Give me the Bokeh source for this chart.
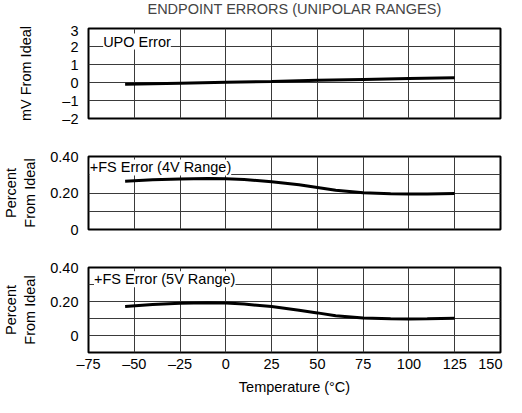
from bokeh.plotting import figure
from bokeh.models import Range1d, FixedTicker, Label
from bokeh.layouts import column
from bokeh.embed import file_html
from bokeh.resources import INLINE

# ---- data ----
title_text = "ENDPOINT ERRORS (UNIPOLAR RANGES)"
x_ticks = [-75, -50, -25, 0, 25, 50, 75, 100, 125, 150]
x_tick_labels = ["\u201375", "\u201350", "\u201325", "0", "25", "50", "75", "100", "125",
                 "150\u00a0"]
x_label = "Temperature (\u00b0C)"

upo_temp = [-55, -25, 0, 25, 50, 75, 100, 125]
upo_mv = [-0.10, -0.04, 0.01, 0.06, 0.12, 0.17, 0.22, 0.27]

fs_temp = [-55, -40, -25, -10, 0, 10, 25, 40, 50, 60, 75, 90, 100, 110, 125]
fs4_pct = [0.265, 0.272, 0.277, 0.279, 0.278, 0.274, 0.262, 0.245, 0.230, 0.215, 0.201, 0.196, 0.195, 0.195, 0.197]
fs5_pct = [0.171, 0.182, 0.190, 0.193, 0.191, 0.185, 0.170, 0.148, 0.133, 0.116, 0.103, 0.098, 0.097, 0.098, 0.101]

p1_yticks = [-2, -1, 0, 1, 2, 3]
p1_ylabels = ["\u20132", "\u20131", "0", "1", "2", "3"]
pct_major = [0, 0.2, 0.4]
pct_labels = ["0", "0.20", "0.40"]

FONT = "Liberation Sans"
FS = "14.5px"
GRID = "#3a3a3a"


def base(height, yr, top, bottom):
    p = figure(width=506, height=height, x_range=Range1d(-75, 150), y_range=yr,
               output_backend="svg", toolbar_location=None,
               min_border_left=84, min_border_right=6,
               min_border_top=top, min_border_bottom=bottom)
    p.outline_line_color = "black"
    p.outline_line_width = 2
    p.outline_line_alpha = 1
    p.xgrid.ticker = FixedTicker(ticks=x_ticks)
    p.xgrid.grid_line_color = GRID
    p.xgrid.grid_line_width = 1
    p.ygrid.grid_line_color = GRID
    p.ygrid.grid_line_width = 1
    for ax in p.axis:
        ax.axis_line_color = None
        ax.major_tick_line_color = None
        ax.minor_tick_line_color = None
        ax.major_tick_out = 0
        ax.major_tick_in = 0
        ax.minor_tick_out = 0
        ax.minor_tick_in = 0
        ax.major_label_text_font = FONT
        ax.major_label_text_font_size = FS
        ax.major_label_text_color = "black"
        ax.axis_label_text_font = FONT
        ax.axis_label_text_font_size = FS
        ax.axis_label_text_font_style = "normal"
        ax.axis_label_text_color = "black"
    for ax in p.yaxis:
        ax.major_label_standoff = 10
    return p


def add_label(p, x, y, text):
    p.add_layout(Label(x=x, y=y, text=text, text_font=FONT, text_font_size=FS,
                       text_color="black", text_baseline="bottom",
                       background_fill_color="white", background_fill_alpha=1))


# ---- title strip ----
p0 = figure(width=506, height=22, x_range=Range1d(0, 1), y_range=Range1d(0, 1),
            output_backend="svg", toolbar_location=None,
            min_border_left=84, min_border_right=6, min_border_top=0, min_border_bottom=0)
p0.title.text = title_text
p0.title.align = "center"
p0.title.vertical_align = "top"
p0.title.standoff = 0
p0.title.text_font = FONT
p0.title.text_font_size = "14.5px"
p0.title.text_font_style = "normal"
p0.axis.visible = False
p0.grid.visible = False
p0.outline_line_color = None

# ---- panel 1 ----
p1 = base(106, Range1d(-2, 3), 6, 10)
p1.xaxis.visible = False
p1.yaxis.ticker = FixedTicker(ticks=p1_yticks)
p1.ygrid.ticker = FixedTicker(ticks=p1_yticks)
p1.yaxis.major_label_overrides = dict(zip(p1_yticks, p1_ylabels))
p1.yaxis.axis_label = "mV From Ideal"
p1.yaxis.axis_label_standoff = 25
p1.line(upo_temp, upo_mv, line_color="black", line_width=3, level="overlay")
add_label(p1, -67, 1.83, "UPO Error")

# ---- panel 2 ----
p2 = base(111, Range1d(0, 0.4), 28, 10)
p2.xaxis.visible = False
p2.yaxis.ticker = FixedTicker(ticks=pct_major, minor_ticks=[0.1, 0.3])
p2.ygrid.ticker = FixedTicker(ticks=pct_major, minor_ticks=[0.1, 0.3])
p2.ygrid.minor_grid_line_color = GRID
p2.ygrid.minor_grid_line_width = 1
p2.yaxis.major_label_overrides = dict(zip(pct_major, pct_labels))
p2.yaxis.axis_label = "Percent\nFrom Ideal"
p2.yaxis.axis_label_standoff = 9
p2.line(fs_temp, fs4_pct, line_color="black", line_width=3, level="overlay")
add_label(p2, -74.3, 0.296, "+FS Error (4V Range)")

# ---- panel 3 ----
p3 = base(158, Range1d(-0.1, 0.4), 28, 41)
p3.yaxis.ticker = FixedTicker(ticks=pct_major, minor_ticks=[-0.1, 0.1, 0.3])
p3.ygrid.ticker = FixedTicker(ticks=pct_major, minor_ticks=[-0.1, 0.1, 0.3])
p3.ygrid.minor_grid_line_color = GRID
p3.ygrid.minor_grid_line_width = 1
p3.yaxis.major_label_overrides = dict(zip(pct_major, pct_labels))
p3.yaxis.axis_label = "Percent\nFrom Ideal"
p3.yaxis.axis_label_standoff = 9
ax = p3.xaxis[0]
ax.ticker = FixedTicker(ticks=x_ticks)
ax.major_label_overrides = dict(zip(x_ticks, x_tick_labels))
ax.major_label_standoff = 3
ax.axis_label = x_label
ax.axis_label_standoff = 4
p3.line(fs_temp, fs5_pct, line_color="black", line_width=3, level="overlay")
add_label(p3, -72, 0.284, "+FS Error (5V Range)")

layout = column(p0, p1, p2, p3)
open("out.html", "w").write(file_html(layout, INLINE))
